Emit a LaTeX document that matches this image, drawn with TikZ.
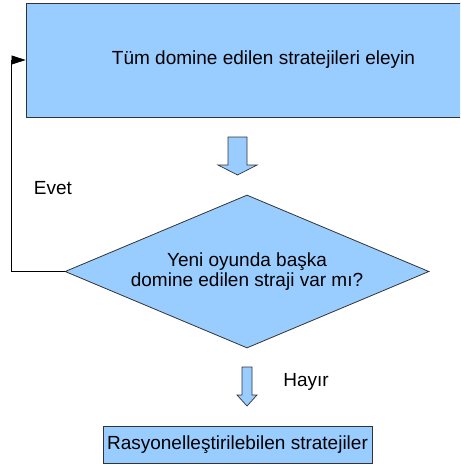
\documentclass[tikz,border=0pt]{standalone}
\usepackage{fontspec}
\setmainfont{Liberation Sans}
\usetikzlibrary{shapes.geometric,arrows.meta}
\definecolor{boxfill}{HTML}{99CCFF}
\definecolor{boxline}{HTML}{333333}
\begin{document}
\begin{tikzpicture}[x=1pt,y=-1pt,
  every node/.style={font=\fontsize{19pt}{20.5pt}\selectfont, text=black},
  flowbox/.style={draw=boxline, fill=boxfill, line width=0.8pt, rectangle, inner sep=0pt},
  decision/.style={draw=boxline, fill=boxfill, line width=0.8pt, diamond, inner sep=0pt, align=center, shape aspect=2.38},
  blockarrow/.style={draw=boxline, fill=boxfill, line width=0.7pt, line join=miter},
  loopline/.style={draw=black, line width=0.7pt, -{Triangle[length=14pt,width=9pt]}},
  plain/.style={inner sep=0pt}]
\useasboundingbox (0,0) rectangle (460,468);
\clip (0,0) rectangle (460,468);
% top box (extends past the right edge)
\node[flowbox, minimum width=475pt, minimum height=114pt] (top) at (263.5,60) {Tüm domine edilen stratejileri eleyin};
% decision diamond
\node[decision, minimum width=364pt, minimum height=153pt] (dec) at (247,271.5) {Yeni oyunda başka\\domine edilen straji var mı?};
% bottom box
\node[flowbox, minimum width=269pt, minimum height=37pt] (res) at (237.5,444.5) {Rasyonelleştirilebilen stratejiler};
% block arrows
\path[blockarrow] (228,137) -- (247,137) -- (247,165) -- (257,165) -- (237.5,175) -- (218,165) -- (228,165) -- cycle;
\path[blockarrow] (242,367) -- (252,367) -- (252,395) -- (257,395) -- (247,406) -- (237,395) -- (242,395) -- cycle;
% loop back
\coordinate (lx) at (11,271.5);
\draw[loopline] (dec.west) -- (lx) |- (top.west);
% labels
\node[plain] (evet) at (53,188) {Evet};
\node[plain] (hayir) at (306,382) {Hayır};
\end{tikzpicture}
\end{document}
